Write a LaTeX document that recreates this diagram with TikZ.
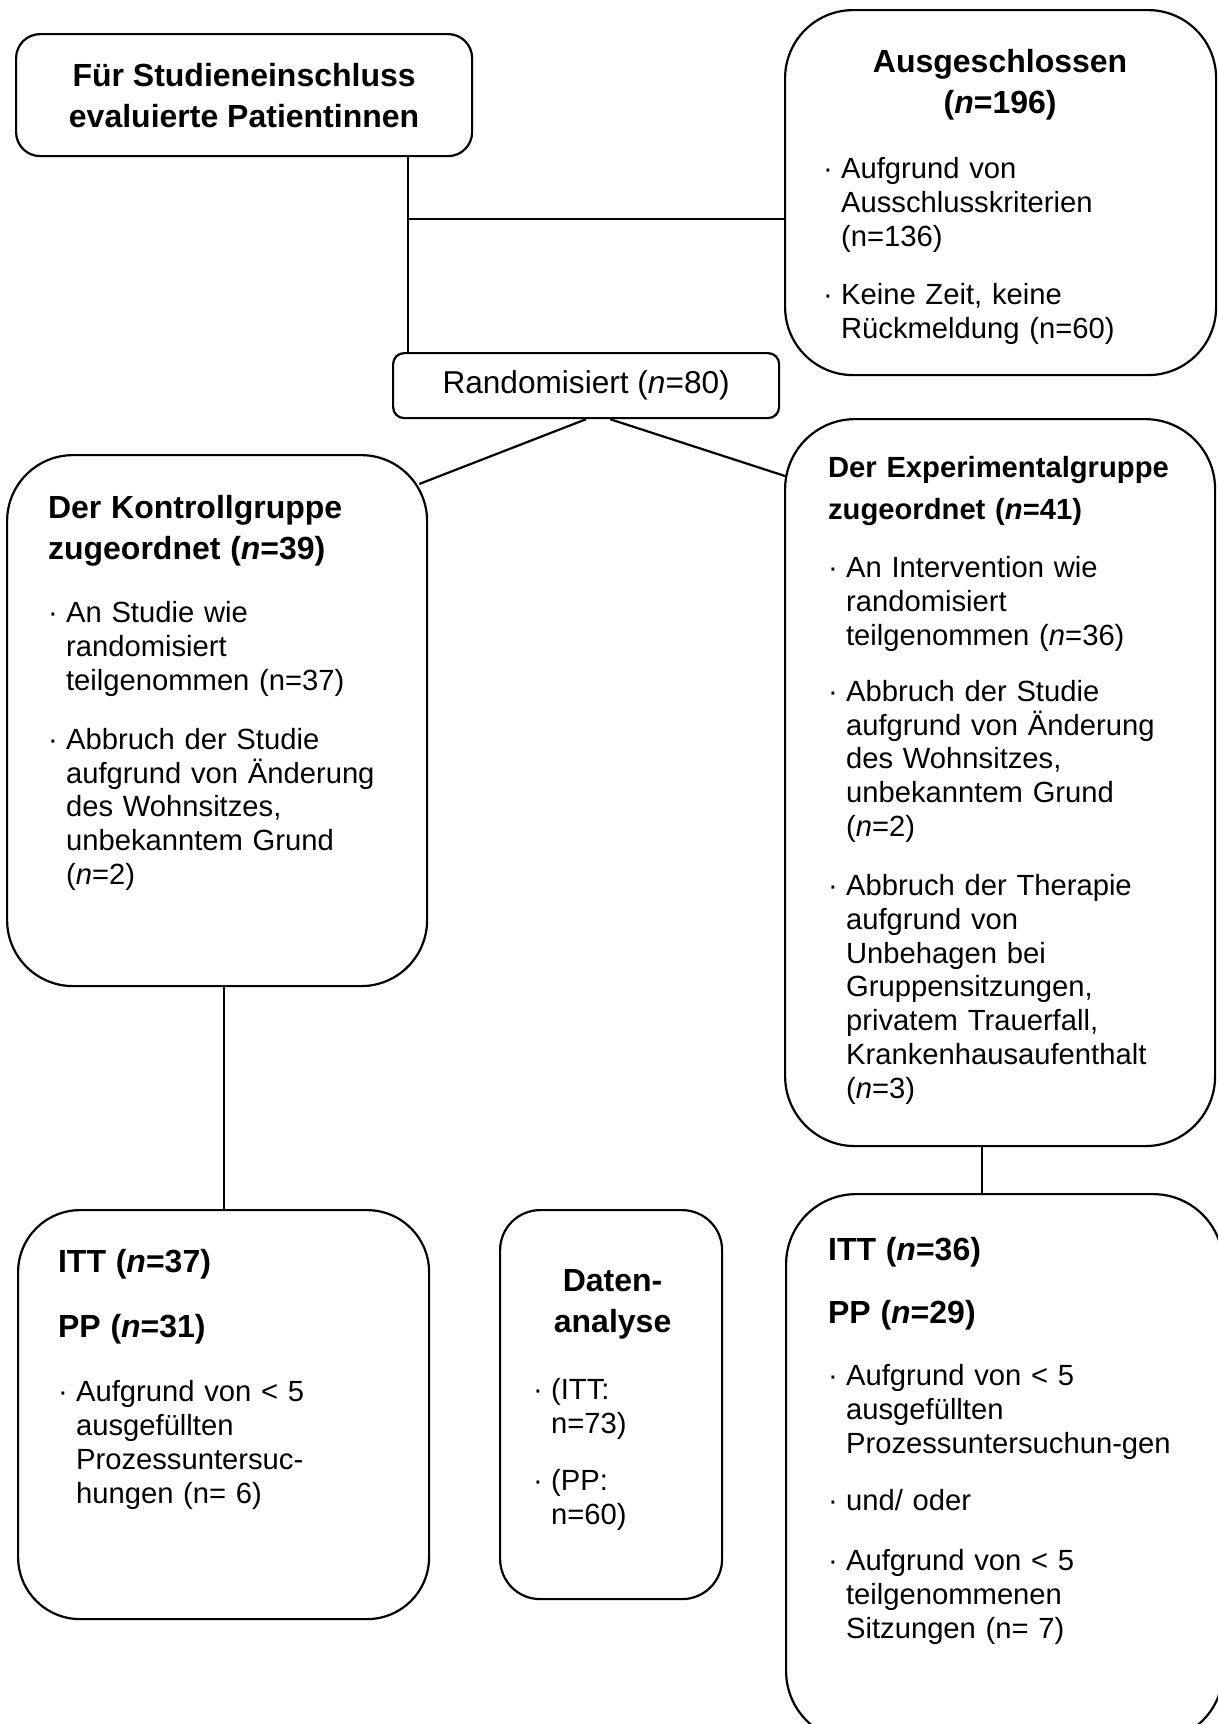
\documentclass[tikz,border=0pt]{standalone}
\usepackage{fontspec}
\setmainfont{Liberation Sans}
\usetikzlibrary{positioning,calc}
\setlength{\parindent}{0pt}
\newcommand{\bodyfont}{\fontsize{14.6}{16.9}\selectfont}
\newcommand{\titlefont}{\fontsize{16}{20.5}\selectfont\bfseries}
\newcommand{\etitlefont}{\fontsize{14.6}{21}\selectfont\bfseries}
\newcommand{\bul}[2][12pt]{\par\vspace{#1}{\leftskip=9pt\noindent\llap{\makebox[9pt][l]{·}}#2\par}}

\begin{document}
\begin{tikzpicture}[x=0.5pt, y=-0.5pt, line width=1.1pt,
  rbox/.style={draw, rounded corners=#1, anchor=north west, inner sep=0pt},
  txt/.style={anchor=north west, inner sep=0pt, text width=#1, font=\bodyfont}]
  \useasboundingbox (0,0) rectangle (1218,1724);
  \clip (0,0) rectangle (1218,1724);

  % Einschluss und Ausschluss
  \node[rbox=12pt, minimum width=228pt, minimum height=61pt, align=center, font=\titlefont]
    (einschluss) at (15,33) {Für Studieneinschluss\\evaluierte Patientinnen};
  \node[rbox=34pt, minimum width=215.5pt, minimum height=182.5pt] (excl) at (784,9) {};
  \node[txt=177pt, below right=19.75pt and 19pt of excl.north west] (excltext)
    {{\centering\titlefont Ausgeschlossen\\(\textit{n}=196)\par}%
     \bul[15.6pt]{Aufgrund von\\Ausschlusskriterien\\(n=136)}%
     \bul[12.1pt]{Keine Zeit, keine\\Rückmeldung (n=60)}};
  \node[rbox=5.5pt, minimum width=193pt, minimum height=32.5pt, font=\fontsize{15.8}{19}\selectfont]
    (rand) at (392,352) {Randomisiert (\textit{n}=80)};

  % Zuordnung
  \node[rbox=33pt, minimum width=210pt, minimum height=265.5pt] (kontroll) at (6,454) {};
  \node[txt=180pt, below right=20.25pt and 20.5pt of kontroll.north west] (kontrolltext)
    {{\titlefont Der Kontrollgruppe\\zugeordnet (\textit{n}=39)\par}%
     \bul[14.6pt]{An Studie wie\\randomisiert\\teilgenommen (n=37)}%
     \bul[12.6pt]{Abbruch der Studie\\aufgrund von Änderung\\des Wohnsitzes,\\unbekanntem Grund\\(\textit{n}=2)}};
  \node[rbox=35pt, minimum width=215pt, minimum height=363.5pt] (expgr) at (784,418) {};
  \node[txt=185pt, below right=18.75pt and 21.5pt of expgr.north west] (expgrtext)
    {{\etitlefont Der Experimentalgruppe\\zugeordnet (\textit{n}=41)\par}%
     \bul[12.1pt]{An Intervention wie\\randomisiert\\teilgenommen (\textit{n}=36)}%
     \bul[11.1pt]{Abbruch der Studie\\aufgrund von Änderung\\des Wohnsitzes,\\unbekanntem Grund\\(\textit{n}=2)}%
     \bul[12.6pt]{Abbruch der Therapie\\aufgrund von\\Unbehagen bei\\Gruppensitzungen,\\privatem Trauerfall,\\Krankenhausaufenthalt\\(\textit{n}=3)}};

  % Analyse
  \node[rbox=31pt, minimum width=205.5pt, minimum height=204.5pt] (ittl) at (17,1209) {};
  \node[txt=170pt, below right=19.75pt and 20pt of ittl.north west] (ittltext)
    {{\titlefont ITT (\textit{n}=37)\par}\vspace{12pt}%
     {\titlefont PP (\textit{n}=31)\par}%
     \bul[15.1pt]{Aufgrund von < 5\\ausgefüllten\\Prozessuntersuc-\\hungen (n= 6)}};
  \node[rbox=20pt, minimum width=111pt, minimum height=194.5pt] (daten) at (499,1209) {};
  \node[txt=79.5pt, below right=29.75pt and 16.5pt of daten.north west] (datentext)
    {{\centering\titlefont Daten-\\analyse\par}%
     \bul[16.6pt]{(ITT:\\n=73)}%
     \bul[11.6pt]{(PP:\\n=60)}};
  \node[rbox=35pt, minimum width=218.5pt, minimum height=273.5pt] (ittr) at (785,1193) {};
  \node[txt=185pt, below right=21.75pt and 21pt of ittr.north west] (ittrtext)
    {{\titlefont ITT (\textit{n}=36)\par}\vspace{11pt}%
     {\titlefont PP (\textit{n}=29)\par}%
     \bul[14.1pt]{Aufgrund von < 5\\ausgefüllten\\Prozessuntersuchun-gen}%
     \bul[11.6pt]{und/ oder}%
     \bul[13.1pt]{Aufgrund von < 5\\teilgenommenen\\Sitzungen (n= 7)}};

  % Verbindungen
  \coordinate (trunk) at ([xshift=8pt]rand.north west);
  \coordinate (split) at (trunk |- 0,219);
  \draw (trunk) -- (trunk |- einschluss.south);
  \draw (split) -- (split -| excl.west);
  \coordinate (kcorner) at ($(kontroll.north east)+(-9,30)$);
  \coordinate (ecorner) at ($(expgr.north west)+(1,58)$);
  \draw (rand.south) -- (kcorner);
  \draw ([xshift=12pt]rand.south) -- (ecorner);
  \draw (ittl.north) -- (ittl.north |- kontroll.south);
  \coordinate (edrop) at ([xshift=-9pt]expgr.south);
  \draw (edrop) -- (edrop |- ittr.north);
\end{tikzpicture}
\end{document}
